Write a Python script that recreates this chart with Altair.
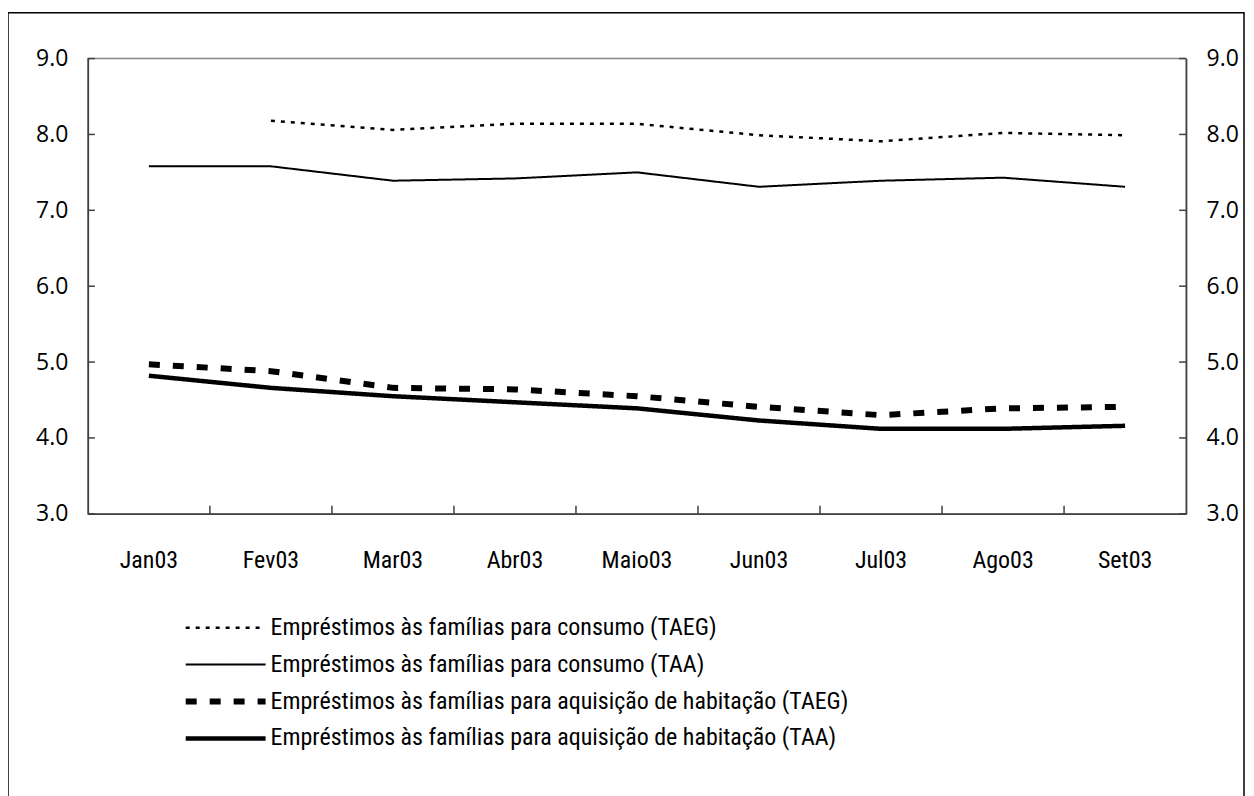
import altair as alt
import pandas as pd

months = ['Jan03', 'Fev03', 'Mar03', 'Abr03', 'Maio03', 'Jun03', 'Jul03', 'Ago03', 'Set03']
series = [
    'Empréstimos às famílias para consumo (TAEG)',
    'Empréstimos às famílias para consumo (TAA)',
    'Empréstimos às famílias para aquisição de habitação (TAEG)',
    'Empréstimos às famílias para aquisição de habitação (TAA)',
]
cons_taeg = [None, 8.18, 8.06, 8.14, 8.14, 7.99, 7.91, 8.02, 7.99]
cons_taa = [7.58, 7.58, 7.39, 7.42, 7.50, 7.31, 7.39, 7.43, 7.31]
hab_taeg = [4.97, 4.88, 4.66, 4.64, 4.55, 4.41, 4.30, 4.39, 4.41]
hab_taa = [4.82, 4.66, 4.55, 4.47, 4.39, 4.23, 4.12, 4.12, 4.16]
y_ticks = [3, 4, 5, 6, 7, 8, 9]

dashes = [[4, 6], [1, 0], [11, 13], [1, 0]]
widths = [2.5, 2, 6, 4.5]

rows = []
for name, vals in zip(series, [cons_taeg, cons_taa, hab_taeg, hab_taa]):
    for m, v in zip(months, vals):
        if v is not None:
            rows.append({'m': m, 'v': v, 's': name})
df = pd.DataFrame(rows)

W, H = 1100, 456
NARROW = "Roboto Condensed, Liberation Sans Narrow, Arial Narrow, sans-serif"
REG = "Open Sans, DejaVu Sans, sans-serif"

xscale = alt.Scale(type='band', domain=months, paddingInner=0, paddingOuter=0)
xaxis = alt.Axis(title=None, labelAngle=0, ticks=False, labelPadding=35,
                 labelFont=NARROW, labelFontSize=24, labelFontWeight='normal',
                 labelColor='black',
                 domainColor='#404040', domainWidth=1.5, grid=False)
yscale = alt.Scale(domain=[3, 9], nice=False, zero=False)

leg = alt.Legend(title=None, orient='none', legendX=95, legendY=557,
                 symbolType='stroke', symbolSize=6400, symbolStrokeColor='black',
                 labelFont=NARROW, labelFontSize=24, labelFontWeight='normal',
                 labelColor='black', clipHeight=26,
                 rowPadding=11, labelOffset=2, labelLimit=900, direction='vertical')

lines = alt.Chart(df).mark_line(color='black', strokeCap='butt').encode(
    x=alt.X('m:N', sort=months, bandPosition=0.5, scale=xscale, axis=xaxis),
    y=alt.Y('v:Q', scale=yscale, axis=None),
    strokeDash=alt.StrokeDash('s:N', scale=alt.Scale(type='ordinal', domain=series, range=dashes), legend=leg),
    strokeWidth=alt.StrokeWidth('s:N', scale=alt.Scale(type='ordinal', domain=series, range=widths), legend=leg),
)

df_t = pd.DataFrame({'t': y_ticks})
left_ticks = alt.Chart(df_t).mark_rule(color='#404040', strokeWidth=1.5).encode(
    y=alt.Y('t:Q', scale=yscale,
            axis=alt.Axis(orient='left', values=y_ticks, format='.1f', ticks=False,
                          labelPadding=20, labelFont=REG, labelFontSize=23,
                          labelColor='black', domainColor='#404040', domainWidth=1.5,
                          title=None, grid=False)),
    x=alt.value(0), x2=alt.value(7),
)
right_ticks = alt.Chart(df_t).mark_rule(color='#404040', strokeWidth=1.5).encode(
    y=alt.Y('t:Q', scale=yscale,
            axis=alt.Axis(orient='right', values=y_ticks, format='.1f', ticks=False,
                          labelPadding=20, labelFont=REG, labelFontSize=23,
                          labelColor='black', domainColor='#404040', domainWidth=1.5,
                          title=None, grid=False)),
    x=alt.value(W - 7), x2=alt.value(W),
)

df_x = pd.DataFrame({'m': months[1:]})
x_ticks = alt.Chart(df_x).mark_rule(color='#404040', strokeWidth=1.5).encode(
    x=alt.X('m:N', sort=months, bandPosition=0, scale=xscale, axis=xaxis),
    y=alt.value(H - 8), y2=alt.value(H),
)

border = alt.Chart(pd.DataFrame({'a': [0]})).mark_rect(
    fillOpacity=0, stroke='black', strokeWidth=1.5
).encode(x=alt.value(-80), x2=alt.value(1158), y=alt.value(-46), y2=alt.value(900))

chart = alt.layer(border, lines, left_ticks, right_ticks, x_ticks).resolve_scale(
    y='independent'
).properties(
    width=W, height=H,
    padding={'left': 80, 'top': 50, 'right': 60, 'bottom': 282},
    autosize=alt.AutoSizeParams(type='none'),
    background='white',
).configure_view(stroke='#888888', strokeWidth=1.5)

chart.save("out.html", embed_options={"renderer": "svg", "actions": False})
